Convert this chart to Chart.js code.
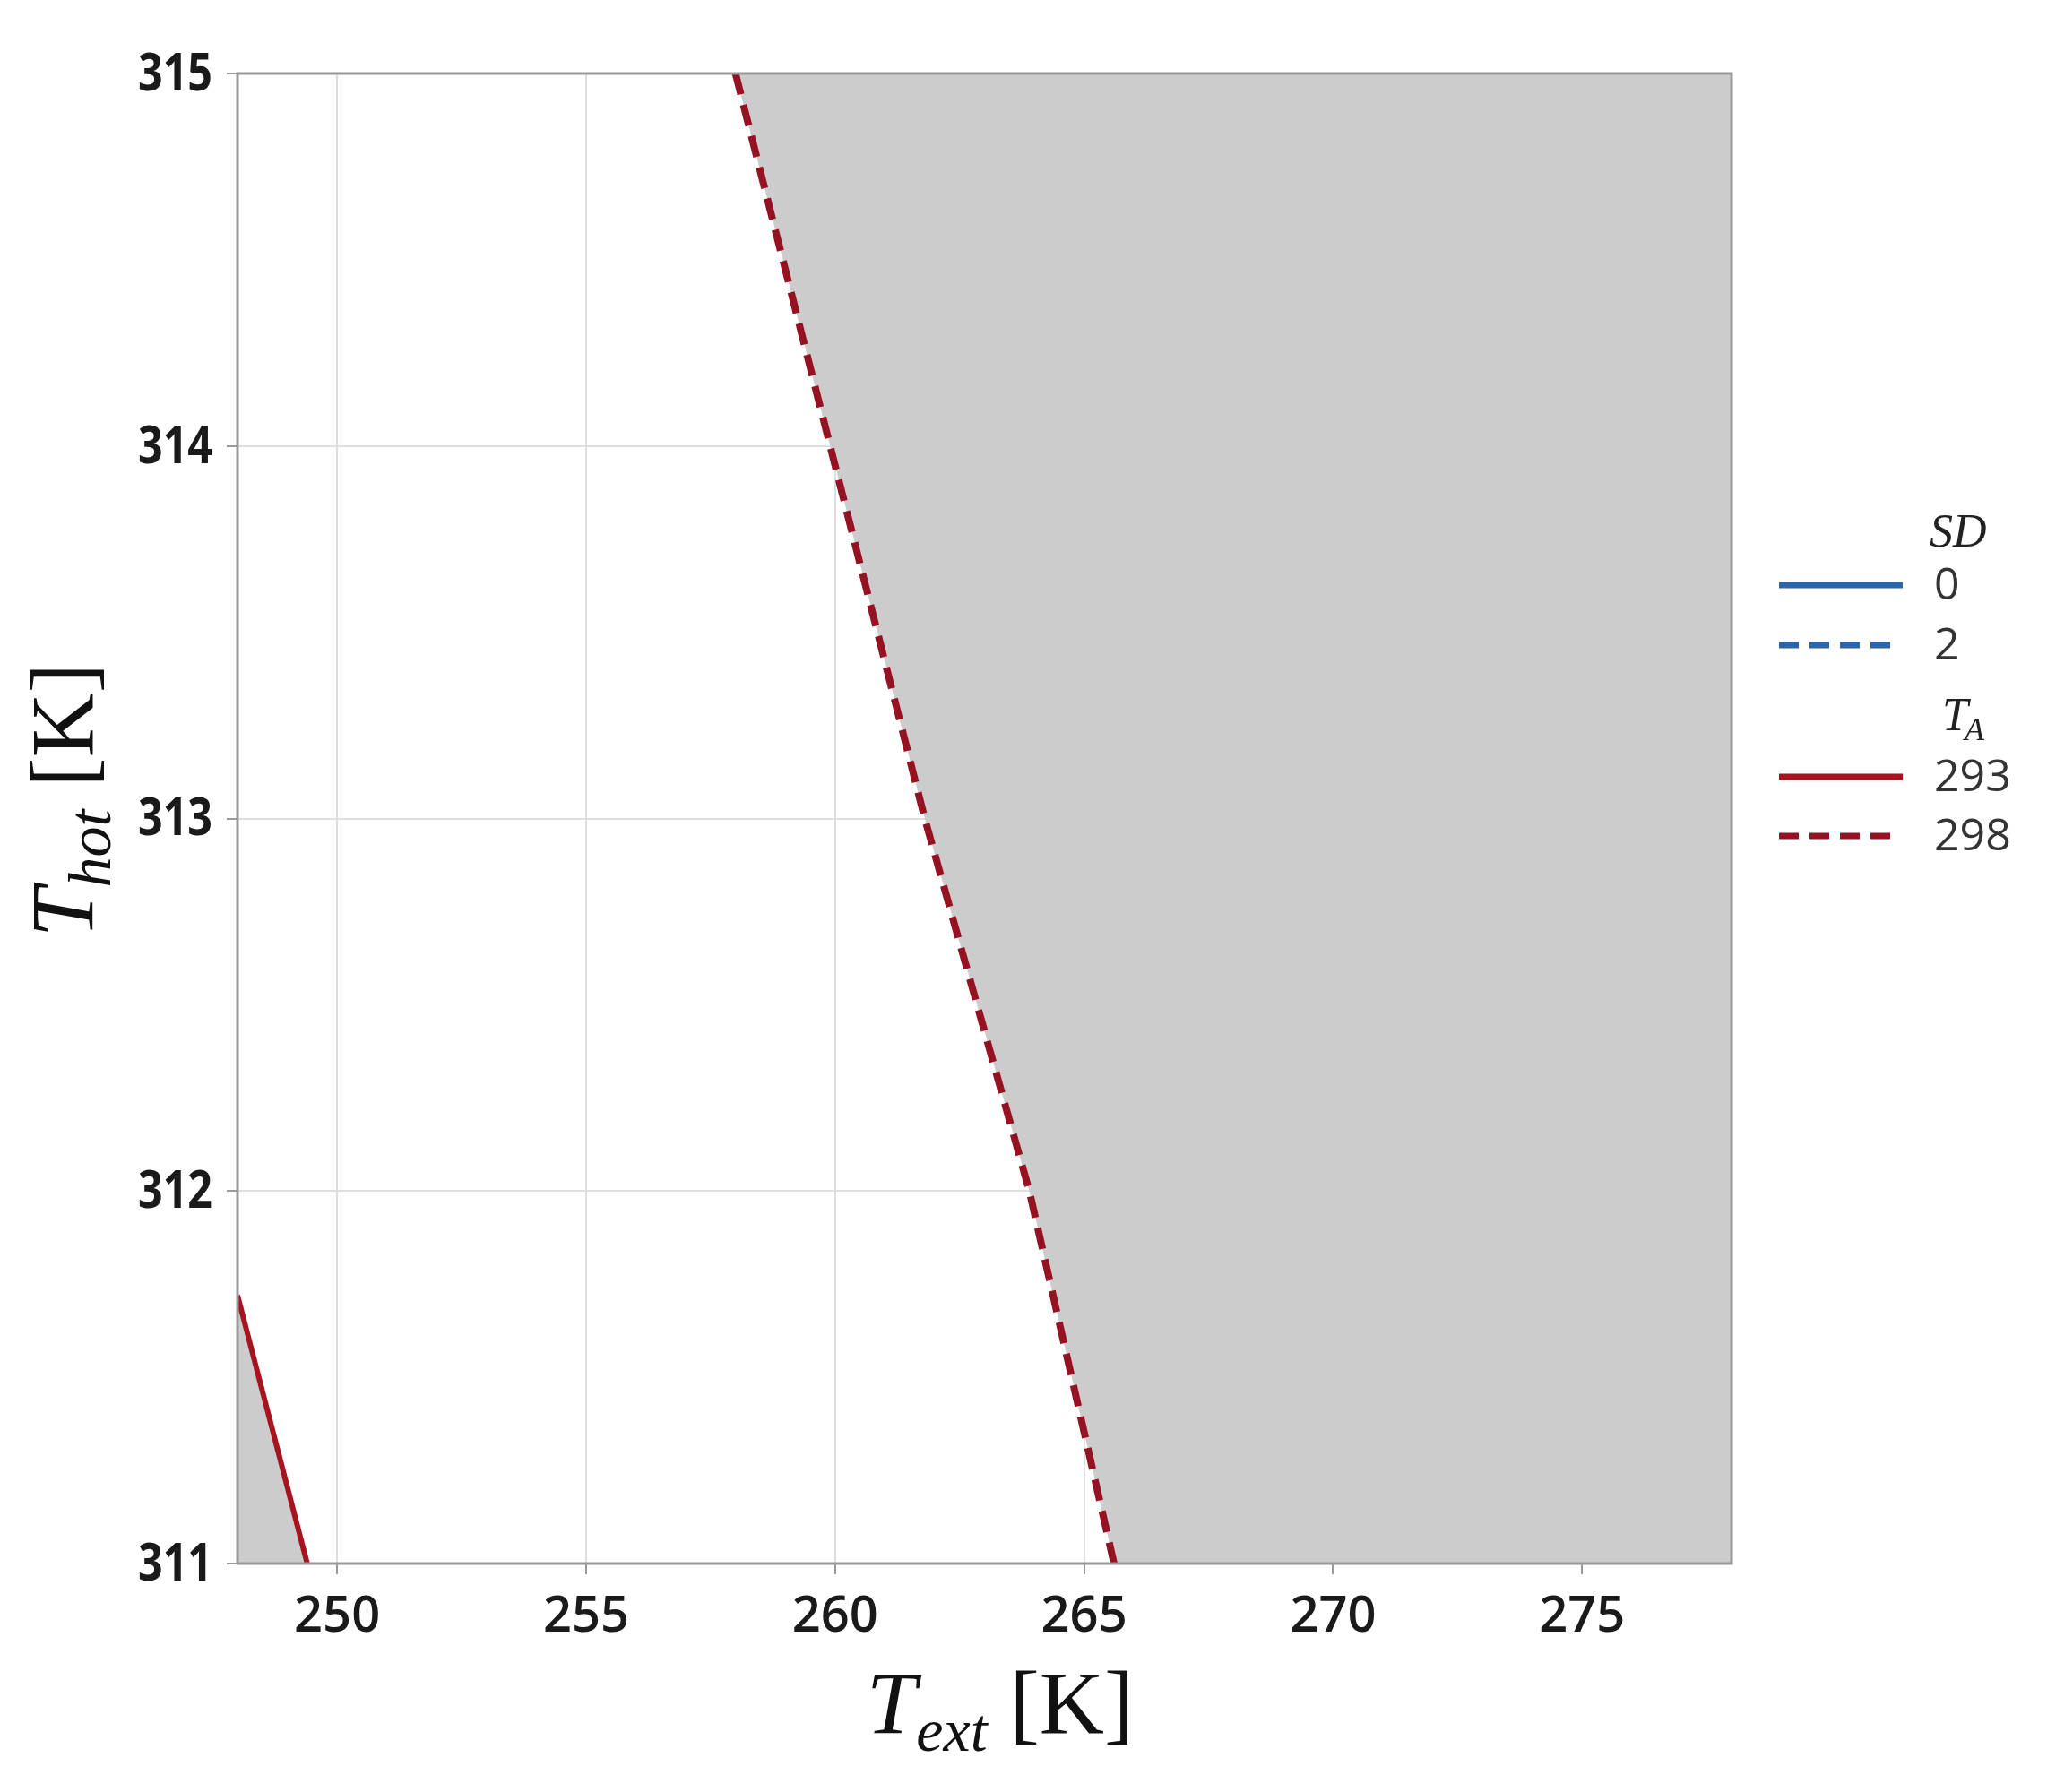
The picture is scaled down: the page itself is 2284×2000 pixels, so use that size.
<!DOCTYPE html>
<html lang="en">
<head>
  <meta charset="UTF-8">
  <title>Thot vs Text regions</title>
  <script src="https://cdn.jsdelivr.net/npm/chart.js"></script>
  <style>
    body { margin: 0; background: #ffffff; }
    .chart-box { position: relative; width: 2284px; height: 2000px; }
  </style>
</head>
<body>
  <div class="chart-box"><canvas id="regionChart"></canvas></div>

  <script>
// Axis ranges and ticks
const xRange = [248, 278];
const yRange = [311, 315];
const xTicks = [250, 255, 260, 265, 270, 275];
const yTicks = [311, 312, 313, 314, 315];

// Boundary for T_A = 293 (solid), region to the lower left is shaded
const ta293X = [248.0, 249.4];
const ta293Y = [311.72, 311.0];

// Boundary for T_A = 298 (dashed), region to the right is shaded
const ta298X = [258.0, 259.9, 261.8, 263.9, 265.6];
const ta298Y = [315, 314, 313, 312, 311];

// Legend entries
const sdLabels = ['0', '2'];
const taLabels = ['293', '298'];

const red = '#a5141f';
const darkRed = '#951222';
const blue = '#2b66ab';
const grey = '#cccccc';

const toPoints = (xs, ys) => xs.map((x, i) => ({ x: x, y: ys[i] }));

// Draws "T" + subscript + " [K]" style labels, centred on cx
function drawMathLabel(ctx, main, sub, rest, cx, baseline, size) {
  const mainFont = `italic ${size}px 'Liberation Serif', 'DejaVu Serif', serif`;
  const subFont = `italic ${Math.round(size * 0.68)}px 'Liberation Serif', 'DejaVu Serif', serif`;
  const restFont = `${size}px 'Liberation Serif', 'DejaVu Serif', serif`;
  ctx.font = mainFont; const w1 = ctx.measureText(main).width;
  ctx.font = subFont; const w2 = ctx.measureText(sub).width;
  ctx.font = restFont; const w3 = ctx.measureText(rest).width;
  let x = cx - (w1 + w2 + w3) / 2;
  ctx.textAlign = 'left';
  ctx.textBaseline = 'alphabetic';
  ctx.font = mainFont; ctx.fillText(main, x, baseline); x += w1;
  ctx.font = subFont; ctx.fillText(sub, x, baseline + size * 0.2); x += w2;
  ctx.font = restFont; ctx.fillText(rest, x, baseline);
}

const decorPlugin = {
  id: 'decor',
  afterDraw(chart) {
    const ctx = chart.ctx;
    const a = chart.chartArea;
    ctx.save();

    // plot frame
    ctx.strokeStyle = '#9a9a9a';
    ctx.lineWidth = 3;
    ctx.strokeRect(a.left, a.top, a.right - a.left, a.bottom - a.top);

    // y tick labels, in a narrow bold face
    const yScale = chart.scales.y;
    ctx.fillStyle = '#1a1a1a';
    ctx.font = "bold 59px 'Open Sans', 'Noto Sans', sans-serif";
    ctx.textAlign = 'right';
    ctx.textBaseline = 'middle';
    yScale.ticks.forEach(t => {
      const py = yScale.getPixelForValue(t.value);
      ctx.save();
      ctx.translate(237, py + 2);
      ctx.scale(0.82, 1);
      ctx.fillText(String(t.value), 0, 0);
      ctx.restore();
    });

    // axis titles
    ctx.fillStyle = '#111111';
    drawMathLabel(ctx, 'T', 'ext', ' [K]', 1116, 1934, 100);
    ctx.save();
    ctx.translate(103, 893);
    ctx.rotate(-Math.PI / 2);
    drawMathLabel(ctx, 'T', 'hot', ' [K]', 0, 0, 100);
    ctx.restore();

    // legend
    const keyX0 = 1985, keyX1 = 2123, textX = 2158;
    const drawKey = (y, color, dashed) => {
      ctx.beginPath();
      ctx.strokeStyle = color;
      ctx.lineWidth = 7;
      ctx.setLineDash(dashed ? [22, 12] : []);
      ctx.moveTo(keyX0, y);
      ctx.lineTo(dashed ? keyX0 + 124 : keyX1, y);
      ctx.stroke();
      ctx.setLineDash([]);
    };
    const legendFont = "50px 'Open Sans', 'Noto Sans', sans-serif";
    ctx.textAlign = 'left';

    // SD group
    ctx.fillStyle = '#222222';
    ctx.font = "italic 52px 'Liberation Serif', 'DejaVu Serif', serif";
    ctx.textBaseline = 'alphabetic';
    ctx.fillText('SD', 2153, 610);
    const sdY = [653, 720];
    sdLabels.forEach((lab, i) => {
      drawKey(sdY[i], blue, i === 1);
      ctx.fillStyle = '#333333';
      ctx.font = legendFont;
      ctx.textBaseline = 'middle';
      ctx.fillText(lab, textX, sdY[i] + 2);
    });

    // T_A group
    ctx.fillStyle = '#222222';
    ctx.textBaseline = 'alphabetic';
    ctx.font = "italic 52px 'Liberation Serif', 'DejaVu Serif', serif";
    ctx.fillText('T', 2167, 815);
    const tw = ctx.measureText('T').width;
    ctx.font = "italic 36px 'Liberation Serif', 'DejaVu Serif', serif";
    ctx.fillText('A', 2167 + tw - 4, 826);
    const taY = [867, 933];
    taLabels.forEach((lab, i) => {
      drawKey(taY[i], i === 1 ? darkRed : red, i === 1);
      ctx.fillStyle = '#333333';
      ctx.font = legendFont;
      ctx.textBaseline = 'middle';
      ctx.fillText(lab, textX, taY[i] + 2);
    });

    ctx.restore();
  }
};

const gridOpts = {
  color: '#dedede',
  lineWidth: 2,
  tickColor: '#9a9a9a',
  tickWidth: 2,
  tickLength: 12
};

new Chart(document.getElementById('regionChart'), {
  type: 'scatter',
  data: {
    datasets: [
      {
        label: 'region 298',
        data: [...toPoints(ta298X, ta298Y), { x: xRange[1], y: yRange[0] }],
        showLine: true,
        borderWidth: 0,
        pointRadius: 0,
        backgroundColor: grey,
        fill: 'end',
        order: 3
      },
      {
        label: '298',
        data: toPoints(ta298X, ta298Y),
        showLine: true,
        borderColor: darkRed,
        borderWidth: 8,
        borderDash: [24, 12],
        pointRadius: 0,
        fill: false,
        order: 1
      },
      {
        label: '293',
        data: toPoints(ta293X, ta293Y),
        showLine: true,
        borderColor: red,
        borderWidth: 6,
        pointRadius: 0,
        backgroundColor: grey,
        fill: 'start',
        order: 2
      }
    ]
  },
  options: {
    responsive: true,
    maintainAspectRatio: false,
    animation: false,
    layout: { padding: { left: 0, right: 352, top: 82, bottom: 0 } },
    plugins: {
      legend: { display: false },
      tooltip: { enabled: false }
    },
    scales: {
      x: {
        type: 'linear',
        min: xRange[0],
        max: xRange[1],
        afterBuildTicks: s => { s.ticks = xTicks.map(v => ({ value: v })); },
        afterFit: s => { s.height = 255; },
        grid: gridOpts,
        border: { display: false },
        ticks: {
          color: '#1a1a1a',
          padding: 14,
          maxRotation: 0,
          font: { family: "'Open Sans', 'Noto Sans', sans-serif", size: 56, weight: 600 }
        }
      },
      y: {
        type: 'linear',
        min: yRange[0],
        max: yRange[1],
        afterBuildTicks: s => { s.ticks = yTicks.map(v => ({ value: v })); },
        afterFit: s => { s.width = 265; },
        grid: gridOpts,
        border: { display: false },
        ticks: {
          // labels are drawn by the decor plugin in a narrower face
          color: 'rgba(0,0,0,0)',
          padding: 18,
          font: { family: "'Open Sans', sans-serif", size: 59, weight: 'bold' }
        }
      }
    }
  },
  plugins: [decorPlugin]
});
  </script>
</body>
</html>
